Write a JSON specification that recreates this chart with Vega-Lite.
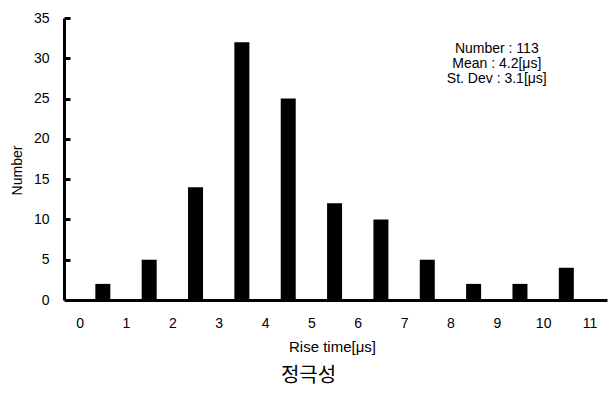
{
  "$schema": "https://vega.github.io/schema/vega-lite/v6.json",
  "autosize": "none",
  "width": 543,
  "height": 282,
  "padding": {"left": 64, "top": 18, "right": 7, "bottom": 97},
  "background": "white",
  "config": {
    "font": "Liberation Sans",
    "view": {"stroke": null},
    "axis": {"grid": false, "domainColor": "black", "domainWidth": 3, "labelColor": "black", "titleColor": "black", "labelFont": "Liberation Sans", "titleFont": "Liberation Sans", "labelFontSize": 14, "titleFontSize": 14, "titleFontWeight": "normal"}
  },
  "title": {
    "text": "정극성",
    "orient": "bottom",
    "font": "Noto Sans CJK KR",
    "fontSize": 20,
    "fontWeight": "normal",
    "color": "black",
    "offset": 12,
    "dx": -27
  },
  "resolve": {"scale": {"y": "independent"}, "axis": {"y": "independent"}},
  "layer": [
    {
      "data": {
        "values": [
          {"rise": 0.5, "count": 2},
          {"rise": 1.5, "count": 5},
          {"rise": 2.5, "count": 14},
          {"rise": 3.5, "count": 32},
          {"rise": 4.5, "count": 25},
          {"rise": 5.5, "count": 12},
          {"rise": 6.5, "count": 10},
          {"rise": 7.5, "count": 5},
          {"rise": 8.5, "count": 2},
          {"rise": 9.5, "count": 2},
          {"rise": 10.5, "count": 4}
        ]
      },
      "mark": {"type": "bar", "color": "black", "width": 15},
      "encoding": {
        "x": {
          "field": "rise",
          "type": "quantitative",
          "scale": {"domain": [-0.23, 11.27], "nice": false, "zero": false},
          "axis": {"values": [0, 1, 2, 3, 4, 5, 6, 7, 8, 9, 10, 11], "ticks": false, "labelPadding": 16, "title": "Rise time[μs]", "titleFontSize": 15, "titlePadding": 9, "titleX": 268, "labelFlush": false}
        },
        "y": {
          "field": "count",
          "type": "quantitative",
          "scale": {"domain": [0, 35], "nice": false},
          "axis": {"orient": "left", "values": [0, 5, 10, 15, 20, 25, 30, 35], "ticks": false, "labelPadding": 15, "title": "Number", "titleX": -47, "titleY": 152, "titleAlign": "center", "titleBaseline": "middle", "labelFlush": false}
        }
      }
    },
    {
      "data": {
        "values": [
          {"line": "Number : 113", "x": 9.0, "y": 31.15},
          {"line": "Mean : 4.2[μs]", "x": 9.0, "y": 29.3},
          {"line": "St. Dev : 3.1[μs]", "x": 9.0, "y": 27.45}
        ]
      },
      "mark": {"type": "text", "fontSize": 14, "color": "black", "align": "center", "baseline": "middle", "font": "Liberation Sans"},
      "encoding": {
        "x": {"field": "x", "type": "quantitative"},
        "y": {
          "field": "y",
          "type": "quantitative",
          "scale": {"domain": [0, 35], "nice": false},
          "axis": {"orient": "right", "offset": -543, "values": [5, 10, 15, 20, 25, 30, 35], "domain": false, "labels": false, "title": null, "tickSize": 6, "tickWidth": 3, "tickColor": "black"}
        },
        "text": {"field": "line"}
      }
    }
  ]
}
